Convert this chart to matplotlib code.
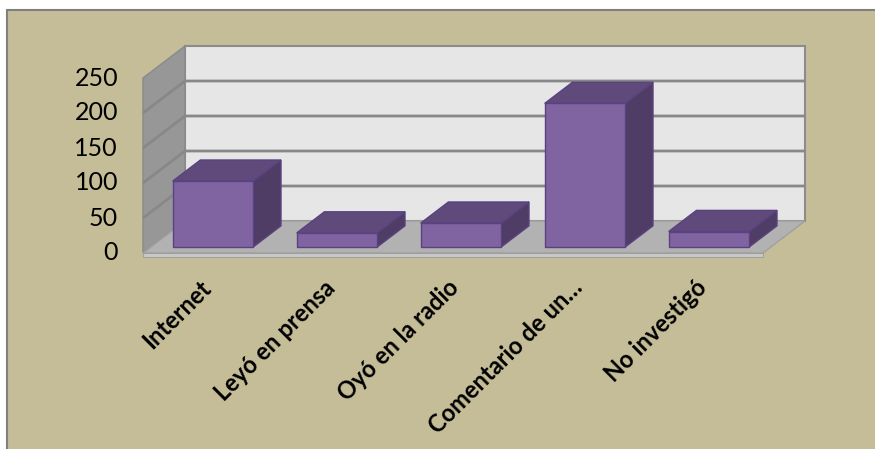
import matplotlib.pyplot as plt
from matplotlib.patches import Polygon, Rectangle

categories = ["Internet", "Leyó en prensa", "Oyó en la radio", "Comentario de un…", "No investigó"]
values = [94, 20, 34, 205, 22]
yticks = [0, 50, 100, 150, 200, 250]

# colours (Excel 2007 style 3-D column)
TAN = "#C4BD97"
BACK_WALL = "#E6E6E6"
SIDE_WALL = "#979797"
FLOOR = "#B2B2B2"
GRID = "#8C8C8C"
FRONT = "#8064A2"
TOP = "#604A7B"
SIDE = "#4F3D66"
EDGE = "#5A4280"

W, H = 875, 449
PX_CAT = 124.0      # pixels per category
PX_VAL = 0.7        # pixels per value unit
X0, Y0 = 143, 253   # pixel of front-left floor corner
DX = 42 / PX_CAT    # depth offset in data units
DY = 32 / PX_VAL
YMAX = 250


def proj(c, v, d):
    return (c + d * DX, v + d * DY)


fig = plt.figure(figsize=(W / 100, H / 100), dpi=100)
fig.patch.set_facecolor("white")
fig.add_artist(Rectangle((7 / W, -0.05), 1.1, (H - 10) / H + 0.05, transform=fig.transFigure,
                         facecolor=TAN, edgecolor="#7F7F7F", linewidth=1.5, zorder=-10))

ax = fig.add_axes([0, 0, 1, 1])
ax.patch.set_visible(False)
ax.set_xlim(-X0 / PX_CAT, (W - X0) / PX_CAT)
ax.set_ylim(-(H - Y0) / PX_VAL, Y0 / PX_VAL)
ax.axis("off")

n = len(categories)


def poly(pts, fc, ec, lw=1.0, z=1):
    ax.add_patch(Polygon([proj(*p) for p in pts], closed=True, facecolor=fc,
                         edgecolor=ec, linewidth=lw, zorder=z))


# walls
poly([(0, 0, 1), (n, 0, 1), (n, YMAX, 1), (0, YMAX, 1)], BACK_WALL, GRID, 1.5, 1)
poly([(0, 0, 0), (0, 0, 1), (0, YMAX, 1), (0, YMAX, 0)], SIDE_WALL, "#8A8A8A", 1.0, 1)

for t in yticks[1:-1]:
    x, y = zip(proj(0, t, 0), proj(0, t, 1), proj(n, t, 1))
    ax.plot(x, y, color="#888888", lw=2.0, zorder=2, solid_capstyle="butt")

# floor with a thin front edge
poly([(0, 0, 0), (n, 0, 0), (n, 0, 1), (0, 0, 1)], FLOOR, "#A0A0A0", 1.0, 3)
poly([(0, -5, 0), (n, -5, 0), (n, 0, 0), (0, 0, 0)], "#C8C8C8", "#9A9A9A", 0.6, 3)

# bars
d0, d1 = 0.19, 0.85
bw = 0.65
for i, v in enumerate(values):
    xa = i + (1 - bw) / 2
    xb = xa + bw
    poly([(xb, 0, d0), (xb, 0, d1), (xb, v, d1), (xb, v, d0)], SIDE, EDGE, 1.0, 4)
    poly([(xa, v, d0), (xb, v, d0), (xb, v, d1), (xa, v, d1)], TOP, EDGE, 1.0, 4)
    poly([(xa, 0, d0), (xb, 0, d0), (xb, v, d0), (xa, v, d0)], FRONT, EDGE, 1.0, 5)

# value axis labels
for t in yticks:
    ax.text((118 - X0) / PX_CAT, t, str(t), ha="right", va="center",
            fontsize=18, family="Lato", color="black")

# category labels, rotated 45 degrees, ending just right of each category centre
for i, lab in enumerate(categories):
    xe = i + 0.5 + 2 / PX_CAT
    ax.text(xe, -(284 - Y0) / PX_VAL, lab, rotation=45, rotation_mode="anchor",
            ha="right", va="center", fontsize=17, fontweight="bold",
            family="Lato", color="black")

fig.savefig("out.png", dpi=100, facecolor=fig.get_facecolor())
